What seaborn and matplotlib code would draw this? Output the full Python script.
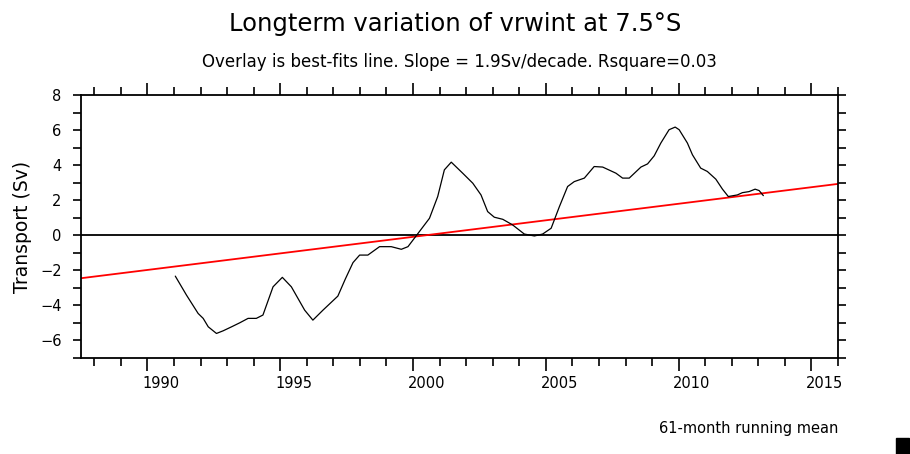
import numpy as np
import pandas as pd
import seaborn as sns
import matplotlib
matplotlib.use("Agg")
import matplotlib.pyplot as plt
from matplotlib.patches import Rectangle

# 61-month running mean of vrwint transport at 7.5S
years = [1991.05, 1991.47, 1991.91, 1992.10, 1992.29, 1992.60, 1992.85, 1993.17,
         1993.48, 1993.79, 1994.10, 1994.35, 1994.73, 1995.08, 1995.42, 1995.92,
         1996.23, 1996.61, 1997.17, 1997.45, 1997.74, 1997.99, 1998.30, 1998.74,
         1999.18, 1999.56, 1999.81, 2000.24, 2000.62, 2000.93, 2001.18, 2001.44,
         2001.87, 2002.25, 2002.56, 2002.81, 2003.06, 2003.38, 2003.75, 2004.19,
         2004.57, 2004.88, 2005.20, 2005.51, 2005.82, 2006.07, 2006.45, 2006.82,
         2007.14, 2007.64, 2007.89, 2008.14, 2008.58, 2008.83, 2009.08, 2009.33,
         2009.64, 2009.87, 2010.02, 2010.33, 2010.52, 2010.83, 2011.08, 2011.40,
         2011.65, 2011.87, 2012.21, 2012.40, 2012.65, 2012.88, 2013.03, 2013.19]
transport = [-2.33, -3.41, -4.46, -4.74, -5.22, -5.60, -5.45, -5.22,
             -4.99, -4.74, -4.74, -4.55, -2.94, -2.40, -2.94, -4.27,
             -4.84, -4.27, -3.47, -2.50, -1.56, -1.13, -1.13, -0.65,
             -0.65, -0.80, -0.65, 0.21, 0.97, 2.21, 3.73, 4.17,
             3.54, 2.97, 2.30, 1.35, 1.03, 0.91, 0.59, 0.07,
             -0.04, 0.07, 0.40, 1.63, 2.78, 3.06, 3.26, 3.92,
             3.89, 3.54, 3.26, 3.26, 3.89, 4.07, 4.53, 5.26,
             6.02, 6.17, 6.02, 5.26, 4.59, 3.83, 3.64, 3.20,
             2.63, 2.21, 2.30, 2.43, 2.49, 2.63, 2.55, 2.26]

# best-fit overlay line end points
fit_years = [1987.5, 2016.0]
fit_values = [-2.45, 2.93]

year_labels = [1990, 1995, 2000, 2005, 2010, 2015]
y_labels = [-6, -4, -2, 0, 2, 4, 6, 8]

sns.set_theme(style="ticks")
plt.rcParams['font.family'] = ['DejaVu Sans']
plt.rcParams['text.color'] = 'black'
plt.rcParams['axes.labelcolor'] = 'black'
plt.rcParams['xtick.color'] = 'black'
plt.rcParams['ytick.color'] = 'black'

df = pd.DataFrame({"year": years, "transport": transport})
fit = pd.DataFrame({"year": fit_years, "transport": fit_values})

fig = plt.figure(figsize=(9.1, 4.54), dpi=100)
ax = fig.add_axes([81 / 910, 1 - 358 / 454, (838 - 81) / 910, (358 - 95) / 454])

ax.axhline(0, color="black", lw=1.3, zorder=1)
sns.lineplot(data=fit, x="year", y="transport", color="#ff0000", lw=1.3, ax=ax)
sns.lineplot(data=df, x="year", y="transport", color="black", lw=0.9, ax=ax)

ax.set_xlim(1987.5, 2016.0)
ax.set_ylim(-7, 8)

# year ticks: long every 5 years, short every year, labels at mid-year
ax.set_xticks(year_labels)
ax.set_xticklabels([])
ax.set_xticks(np.arange(1988, 2017), minor=True)
ax.tick_params(axis="x", which="major", length=9, width=1.2, direction="out",
               top=True, bottom=True)
ax.tick_params(axis="x", which="minor", length=6, width=1.2, direction="out",
               top=True, bottom=True)
sec = ax.secondary_xaxis("bottom")
sec.set_xticks([y + 0.5 for y in year_labels])
sec.set_xticklabels([str(y) for y in year_labels])
sec.tick_params(length=0, pad=13, labelsize=10.5)
sec.spines["bottom"].set_visible(False)

ax.set_yticks(y_labels)
ax.set_yticks(np.arange(-7, 9), minor=True)
ax.tick_params(axis="y", which="both", length=6, width=1.2, direction="out",
               left=True, right=True, labelsize=10.5, pad=8)

for s in ax.spines.values():
    s.set_visible(True)
    s.set_linewidth(1.3)
    s.set_color("black")

ax.set_xlabel("")
ax.set_ylabel("Transport (Sv)", fontsize=13.5, labelpad=6)

fig.text(455 / 910, 1 - 24 / 454, "Longterm variation of vrwint at 7.5°S",
         ha="center", va="center", fontsize=17.5)
fig.text(459 / 910, 1 - 62 / 454,
         "Overlay is best-fits line. Slope = 1.9Sv/decade. Rsquare=0.03",
         ha="center", va="center", fontsize=12)
fig.text(838 / 910, 1 - 428 / 454, "61-month running mean",
         ha="right", va="center", fontsize=10.5)
fig.patches.append(Rectangle((896 / 910, 0), 13 / 910, 16 / 454,
                             transform=fig.transFigure, color="black"))

fig.savefig("out.png", dpi=100)
